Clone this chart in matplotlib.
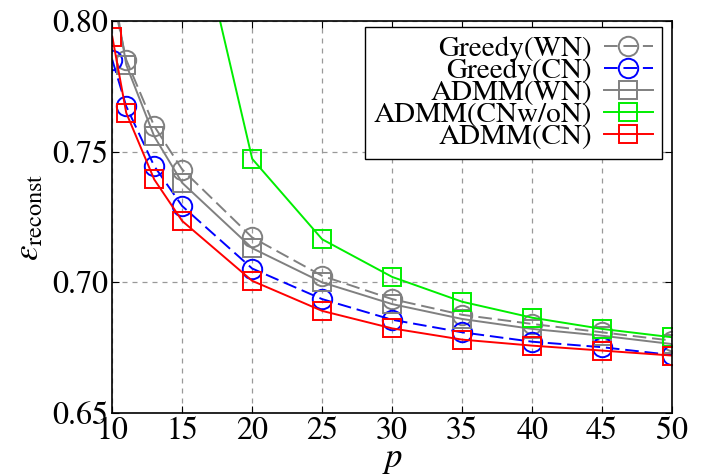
import matplotlib
matplotlib.use("Agg")
import matplotlib.pyplot as plt

plt.rcParams["font.family"] = ["STIXGeneral", "DejaVu Serif"]
plt.rcParams["mathtext.fontset"] = "stix"

p_all = [10, 11, 13, 15, 20, 25, 30, 35, 40, 45, 50]
p_green = [15, 20, 25, 30, 35, 40, 45, 50]

greedy_wn = [0.810, 0.7851, 0.7597, 0.7431, 0.7171, 0.7024, 0.6935, 0.6875, 0.6840, 0.6808, 0.6776]
greedy_cn = [0.7851, 0.7673, 0.7444, 0.7291, 0.7052, 0.6935, 0.6856, 0.6808, 0.6772, 0.6751, 0.6721]
admm_wn = [0.815, 0.7832, 0.7558, 0.7380, 0.7130, 0.6999, 0.6916, 0.6859, 0.6821, 0.6795, 0.6763]
admm_cnwon = [0.862, 0.7472, 0.7164, 0.7020, 0.6925, 0.6864, 0.6821, 0.6789]
admm_cn = [0.794, 0.7648, 0.7393, 0.7234, 0.7005, 0.6890, 0.6823, 0.6780, 0.6757, 0.6738, 0.6719]

fig = plt.figure(figsize=(7.15, 4.75), dpi=100)
ax = fig.add_axes([0.157, 0.131, 0.783, 0.825])

common = dict(markerfacecolor="none", markeredgewidth=1.4, linewidth=1.4)
ax.plot(p_all, greedy_wn, color="#808080", marker="o", markersize=14,
        linestyle=(0, (7, 3)), label="Greedy(WN)", **common)
ax.plot(p_all, greedy_cn, color="#0000ff", marker="o", markersize=14,
        linestyle=(0, (7, 3)), label="Greedy(CN)", **common)
ax.plot(p_all, admm_wn, color="#808080", marker="s", markersize=13,
        linestyle="-", label="ADMM(WN)", **common)
ax.plot(p_green, admm_cnwon, color="#00ee00", marker="s", markersize=13,
        linestyle="-", label="ADMM(CNw/oN)", **common)
ax.plot(p_all, admm_cn, color="#ff0000", marker="s", markersize=13,
        linestyle="-", label="ADMM(CN)", **common)

ax.set_xlim(10, 50)
ax.set_ylim(0.65, 0.80)
ax.set_xticks(range(10, 51, 5))
ax.set_yticks([0.65, 0.70, 0.75, 0.80])
ax.set_yticklabels(["0.65", "0.70", "0.75", "0.80"])
ax.tick_params(direction="in", top=True, right=True, labelsize=23, length=5, pad=3)
ax.grid(True, color="#999999", linestyle=(0, (4, 4)), linewidth=0.9)
for s in ax.spines.values():
    s.set_linewidth(1.2)

ax.set_xlabel(r"$p$", fontsize=25, labelpad=-2)
ax.set_ylabel(r"$\varepsilon_{\mathrm{reconst}}$", fontsize=25, labelpad=4)

leg = ax.legend(loc="upper right", bbox_to_anchor=(0.982, 0.985), markerfirst=False,
                fontsize=21, labelspacing=-0.15, handlelength=1.7, handletextpad=0.4,
                borderpad=0.3, borderaxespad=0, fancybox=False, framealpha=1,
                edgecolor="black", numpoints=1)
leg.get_frame().set_linewidth(1.0)

fig.savefig("out.png", dpi=100)
